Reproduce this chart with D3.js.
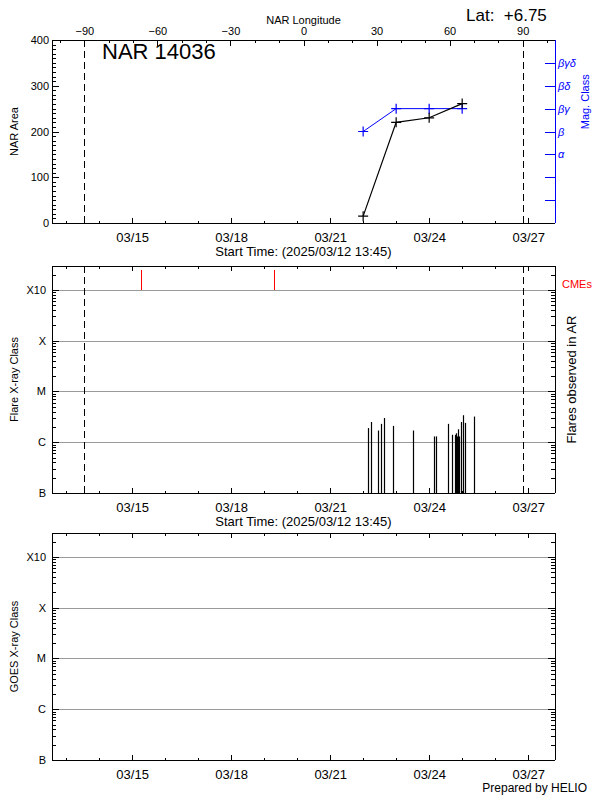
<!DOCTYPE html>
<html><head><meta charset="utf-8">
<script src="https://cdn.jsdelivr.net/npm/d3@7"></script>
<style>
body{margin:0;background:#fff}
svg{display:block}
text{font-family:"Liberation Sans",Arial,sans-serif;fill:#000}
</style>
</head><body>
<svg id="c" width="600" height="800"></svg>
<script>
// ---------------- data ----------------
const startTime = "2025-03-12 13:45";
const endTime = "2025-03-27 19:30";
const arName = "NAR 14036";
const latText = "+6.75";
const limbTimes = ["2025-03-13 13:15", "2025-03-26 20:00"]; // times at lon -90 / +90
const limbLons = [-90, 90];
const arDates = ["2025-03-22 00:00", "2025-03-23 00:00", "2025-03-24 00:00", "2025-03-25 00:00"];
const arArea = [15, 220, 230, 261];
const arMag = ["β", "βγ", "βγ", "βγ"];
const magClasses = ["", "", "", "α", "β", "βγ", "βδ", "βγδ"];
const flareTimes = ["2025-03-22 03:38","2025-03-22 05:49","2025-03-22 10:55","2025-03-22 13:05","2025-03-22 15:16",
  "2025-03-22 21:49","2025-03-23 12:22","2025-03-24 03:38","2025-03-24 05:05","2025-03-24 13:49",
  "2025-03-24 16:44","2025-03-24 18:55","2025-03-24 19:38","2025-03-24 20:22","2025-03-24 21:05",
  "2025-03-24 21:49","2025-03-24 23:16","2025-03-25 00:44","2025-03-25 02:11","2025-03-25 08:44"];
const flareClasses = ["C1.9","C2.5","C1.7","C2.3","C3.0",
  "C2.1","C1.7","C1.3","C1.3","C2.3",
  "C1.4","C1.4","C1.5","C1.3","C1.8",
  "C1.3","C2.5","C3.4","C2.4","C3.2"];
const cmeTimes = ["2025-03-15 06:40", "2025-03-19 07:25"];
const classLabels = ["B", "C", "M", "X", "X10"];
const classFlux = [1e-7, 1e-6, 1e-5, 1e-4, 1e-3];
const areaTicks = [0, 100, 200, 300, 400];
const lonTicks = [-90, -60, -30, 0, 30, 60, 90];
const dateTicks = ["2025-03-15", "2025-03-18", "2025-03-21", "2025-03-24", "2025-03-27"];

// ---------------- helpers ----------------
const pT = d3.utcParse("%Y-%m-%d %H:%M");
const pD = d3.utcParse("%Y-%m-%d");
const classToFlux = s => ({A:1e-8,B:1e-7,C:1e-6,M:1e-5,X:1e-4})[s[0]] * parseFloat(s.slice(1));
const fmtDate = d3.utcFormat("%m/%d");
const minus = d => d < 0 ? "\u2212" + (-d) : String(d);

const svg = d3.select("#c");
const L = 52, R = 555;
const x = d3.scaleUtc().domain([pT(startTime), pT(endTime)]).range([L, R]);
const majorDates = dateTicks.map(pD);
const minorDates = d3.utcDay.range(x.domain()[0], x.domain()[1]);
const startLabel = "Start Time: (" + d3.utcFormat("%Y/%m/%d %H:%M")(pT(startTime)) + ")";

function clean(g){ g.select(".domain").remove(); g.selectAll("line").attr("stroke","#000").attr("shape-rendering","crispEdges"); g.selectAll("text").attr("font-family",null); }

function dateAxes(y0, y1, labels){
  const gb = svg.append("g").attr("transform",`translate(0,${y1})`)
    .call(d3.axisBottom(x).tickValues(majorDates).tickSizeInner(-5).tickSizeOuter(0).tickPadding(10).tickFormat(fmtDate));
  gb.call(clean); gb.selectAll("text").attr("font-size",13);
  svg.append("g").attr("transform",`translate(0,${y1})`)
    .call(d3.axisBottom(x).tickValues(minorDates).tickSizeInner(-2.5).tickSizeOuter(0).tickFormat("")).call(clean);
  if (labels.top) {
    svg.append("g").attr("transform",`translate(0,${y0})`)
      .call(d3.axisTop(x).tickValues(majorDates).tickSizeInner(-5).tickSizeOuter(0).tickFormat("")).call(clean);
    svg.append("g").attr("transform",`translate(0,${y0})`)
      .call(d3.axisTop(x).tickValues(minorDates).tickSizeInner(-2.5).tickSizeOuter(0).tickFormat("")).call(clean);
  }
  if (labels.start) {
    svg.append("text").attr("x", (L+R)/2).attr("y", y1+33).attr("text-anchor","middle").attr("font-size",13).text(startLabel);
  }
}

function classPanel(y0, y1, yLabel){
  const y = d3.scaleLog().domain([1e-7, Math.pow(10,-2.53)]).range([y1, y0]);
  svg.append("g").selectAll("line").data(classFlux.slice(1)).join("line")
    .attr("x1",L).attr("x2",R).attr("y1",d=>Math.round(y(d))+0.5).attr("y2",d=>Math.round(y(d))+0.5)
    .attr("stroke","#9a9a9a").attr("stroke-width",1);
  const minor = [];
  for (let e=-7; e<=-3; e++) for (let m=2; m<=9; m++){ const v=m*Math.pow(10,e); if (v<=y.domain()[1]) minor.push(v); }
  const gl = svg.append("g").attr("transform",`translate(${L},0)`)
    .call(d3.axisLeft(y).tickValues(classFlux).tickSizeInner(-7).tickSizeOuter(0).tickPadding(6).tickFormat((d,i)=>classLabels[i]));
  gl.call(clean); gl.selectAll("text").attr("font-size",11);
  svg.append("g").attr("transform",`translate(${L},0)`)
    .call(d3.axisLeft(y).tickValues(minor).tickSizeInner(-4).tickSizeOuter(0).tickFormat("")).call(clean);
  svg.append("g").attr("transform",`translate(${R},0)`)
    .call(d3.axisRight(y).tickValues(classFlux).tickSizeInner(-7).tickSizeOuter(0).tickFormat("")).call(clean);
  svg.append("g").attr("transform",`translate(${R},0)`)
    .call(d3.axisRight(y).tickValues(minor).tickSizeInner(-4).tickSizeOuter(0).tickFormat("")).call(clean);
  svg.append("text").attr("transform",`translate(18,${(y0+y1)/2}) rotate(-90)`).attr("text-anchor","middle").attr("font-size",11).text(yLabel);
  return y;
}

function frame(y0, y1, rightColor){
  const g = svg.append("g").attr("fill","none").attr("shape-rendering","crispEdges");
  g.append("path").attr("d",`M${R},${y0}H${L}V${y1}H${R}`).attr("stroke","#000");
  g.append("path").attr("d",`M${R},${y0}V${y1}`).attr("stroke",rightColor||"#000");
}

function limbLines(y0, y1){
  svg.append("g").selectAll("line").data(limbTimes).join("line")
    .attr("x1",d=>Math.round(x(pT(d)))+0.5).attr("x2",d=>Math.round(x(pT(d)))+0.5)
    .attr("y1",y0).attr("y2",y1).attr("stroke","#000").attr("stroke-dasharray","7,4");
}

// ---------------- top panel ----------------
const T0 = 40, T1 = 223;
const yA = d3.scaleLinear().domain([0,400]).range([T1, T0]);
const yM = d3.scaleLinear().domain([0,8]).range([T1, T0]);
const lon = d3.scaleLinear().domain(limbLons).range(limbTimes.map(t=>x(pT(t))));

limbLines(T0, T1);
const ga = svg.append("g").attr("transform",`translate(${L},0)`)
  .call(d3.axisLeft(yA).tickValues(areaTicks).tickSizeInner(-7).tickSizeOuter(0).tickPadding(3));
ga.call(clean); ga.selectAll("text").attr("font-size",11);
svg.append("g").attr("transform",`translate(${L},0)`)
  .call(d3.axisLeft(yA).tickValues(d3.range(0,401,10)).tickSizeInner(-4).tickSizeOuter(0).tickFormat("")).call(clean);
svg.append("text").attr("transform",`translate(18,${(T0+T1)/2}) rotate(-90)`).attr("text-anchor","middle").attr("font-size",11).text("NAR Area");

dateAxes(T0, T1, {top:false, start:true});
const lonMinor = d3.range(-100, 101, 10).filter(v => lon(v) > L && lon(v) < R);
const gt = svg.append("g").attr("transform",`translate(0,${T0})`)
  .call(d3.axisTop(lon).tickValues(lonTicks).tickSizeInner(-6).tickSizeOuter(0).tickPadding(5).tickFormat(minus));
gt.call(clean); gt.selectAll("text").attr("font-size",11);
svg.append("g").attr("transform",`translate(0,${T0})`)
  .call(d3.axisTop(lon).tickValues(lonMinor).tickSizeInner(-3).tickSizeOuter(0).tickFormat("")).call(clean);
svg.append("text").attr("x", lon(0)).attr("y", 24).attr("text-anchor","middle").attr("font-size",11).text("NAR Longitude");
svg.append("text").attr("x", 466).attr("y", 21).attr("font-size",17).style("white-space","pre").text("Lat:  " + latText);

const magIdx = d3.range(1, 8);
const gm = svg.append("g").attr("transform",`translate(${R},0)`)
  .call(d3.axisRight(yM).tickValues(magIdx).tickSizeInner(-10).tickSizeOuter(0).tickPadding(3).tickFormat(d=>magClasses[d]));
gm.select(".domain").remove();
gm.selectAll("line").attr("stroke","#0000ff").attr("shape-rendering","crispEdges");
gm.selectAll("text").attr("font-family",null).attr("font-size",11).attr("font-style","italic").style("fill","#0000ff");
svg.append("text").attr("transform",`translate(589,${yM(5.3)}) rotate(-90)`).attr("text-anchor","middle")
  .attr("font-size",11).style("fill","#0000ff").text("Mag. Class");

frame(T0, T1, "#0000ff");
svg.append("text").attr("x", 102).attr("y", 59).attr("font-size",22).text(arName);

const areaPts = arDates.map((d,i)=>[x(pT(d)), yA(arArea[i])]);
const magPts = arDates.map((d,i)=>[x(pT(d)), yM(magClasses.indexOf(arMag[i]))]);
function plus(g, pts, color){
  g.selectAll("path.p").data(pts).join("path").attr("class","p")
    .attr("d",p=>`M${p[0]-5},${p[1]}H${p[0]+5}M${p[0]},${p[1]-5}V${p[1]+5}`)
    .attr("stroke",color).attr("stroke-width",1.2).attr("fill","none");
}
const lineGen = d3.line();
svg.append("path").attr("d", lineGen(magPts)).attr("stroke","#0000ff").attr("fill","none").attr("stroke-width",1);
plus(svg.append("g"), magPts, "#0000ff");
svg.append("path").attr("d", lineGen(areaPts)).attr("stroke","#000").attr("fill","none").attr("stroke-width",1.2);
plus(svg.append("g"), areaPts, "#000");

// ---------------- middle panel ----------------
const M0 = 266, M1 = 493;
const yF = classPanel(M0, M1, "Flare X-ray Class");
limbLines(M0, M1);
dateAxes(M0, M1, {top:true, start:true});
svg.append("g").selectAll("line").data(flareTimes).join("line")
  .attr("x1",d=>Math.round(x(pT(d)))+0.5).attr("x2",d=>Math.round(x(pT(d)))+0.5)
  .attr("y1",M1).attr("y2",(d,i)=>yF(classToFlux(flareClasses[i])))
  .attr("stroke","#000").attr("stroke-width",1.2);
svg.append("g").selectAll("line").data(cmeTimes).join("line")
  .attr("x1",d=>Math.round(x(pT(d)))+0.5).attr("x2",d=>Math.round(x(pT(d)))+0.5)
  .attr("y1",Math.round(yF(1e-3))).attr("y2",M0+4).attr("stroke","#ff0000").attr("stroke-width",1)
  .attr("shape-rendering","crispEdges");
frame(M0, M1);
svg.append("text").attr("x",562).attr("y",288).attr("font-size",11).style("fill","#ff0000").text("CMEs");
svg.append("text").attr("transform",`translate(576,${(M0+M1)/2}) rotate(-90)`).attr("text-anchor","middle").attr("font-size",13).text("Flares observed in AR");

// ---------------- bottom panel ----------------
const B0 = 533, B1 = 760;
classPanel(B0, B1, "GOES X-ray Class");
dateAxes(B0, B1, {top:true, start:false});
frame(B0, B1);
svg.append("text").attr("x",587).attr("y",792).attr("text-anchor","end").attr("font-size",12).text("Prepared by HELIO");
</script>
</body></html>
